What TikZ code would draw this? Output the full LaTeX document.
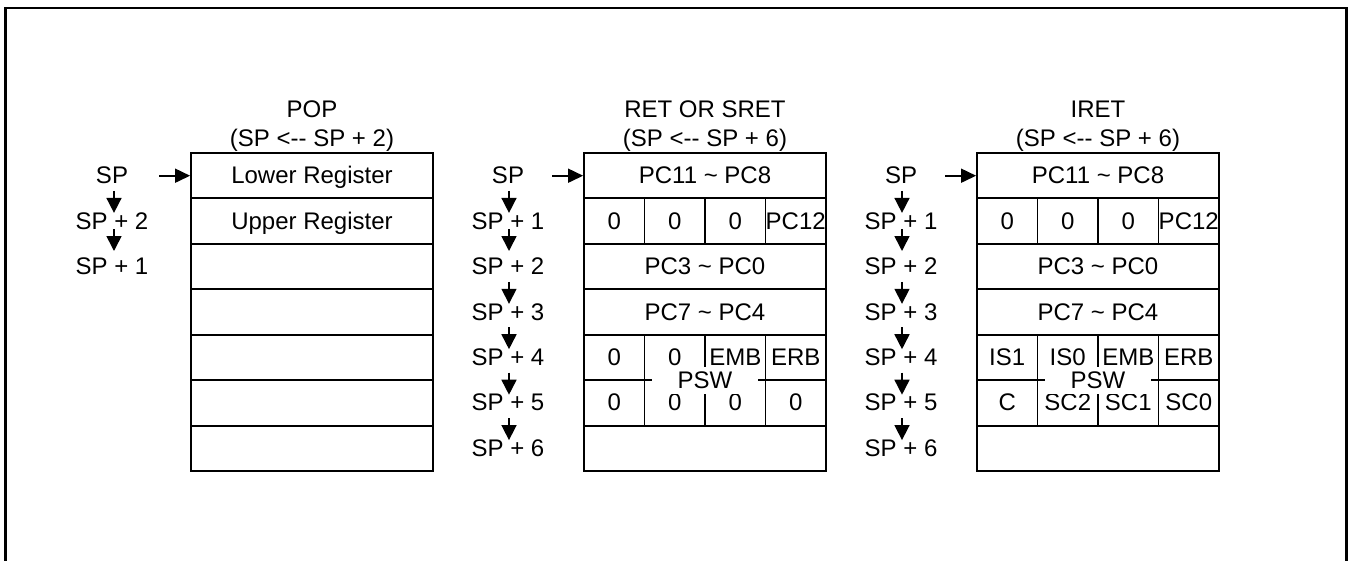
\documentclass[tikz,border=0pt]{standalone}
\usepackage{fontspec}
\setmainfont{Liberation Sans}
\usetikzlibrary{arrows.meta}
\begin{document}
\begin{tikzpicture}[x=1pt,y=-1pt,
  txt/.style={font=\fontsize{24}{28}\selectfont, text height=21pt, text depth=5pt, inner sep=0pt},
  rowbox/.style={txt, draw, line width=1.8pt, minimum width=242pt, minimum height=45.43pt},
  cellbox/.style={txt, draw, line width=1.8pt, minimum width=60.5pt, minimum height=45.43pt},
  pswbox/.style={txt, fill=white, minimum width=106.6pt, minimum height=27pt},
  harr/.style={line width=1.6pt, -{Triangle[length=15pt,width=14pt]}},
  varr/.style={line width=1.6pt, -{Triangle[length=15pt,width=15pt]}},
  frame/.style={line width=2.7pt}]
\useasboundingbox (0,0) rectangle (1353,560);
\draw[frame] (5.7,575) -- (5.7,8) -- (1346.7,8) -- (1346.7,575);

% ---------------- POP ----------------
\node[txt] (tp1) at (312,109) {POP};
\node[txt] (tp2) at (312,138.5) {(SP <-{}- SP + 2)};
\node[rowbox] (p1) at (312,175.7) {Lower Register};
\node[rowbox] (p2) at (312,221.1) {Upper Register};
\node[rowbox] (p3) at (312,266.6) {};
\node[rowbox] (p4) at (312,312.0) {};
\node[rowbox] (p5) at (312,357.4) {};
\node[rowbox] (p6) at (312,402.9) {};
\node[rowbox] (p7) at (312,448.3) {};
\node[txt] (pl1) at (112,175.7) {SP};
\node[txt] (pl2) at (112,221.1) {SP + 2};
\node[txt] (pl3) at (112,266.6) {SP + 1};
\draw[harr] ([xshift=-31pt]p1.west) -- (p1.west);
\draw[varr] ([xshift=2pt,yshift=-2pt]pl1.south) -- ([xshift=2pt,yshift=-5pt]pl2.north);
\draw[varr] ([xshift=2pt,yshift=5pt]pl2.south) -- ([xshift=2pt,yshift=2.4pt]pl3.north);

% ---------------- RET OR SRET ----------------
\node[txt] (tm1) at (705,109) {RET OR SRET};
\node[txt] (tm2) at (705,138.5) {(SP <-{}- SP + 6)};
\node[rowbox] (m1) at (705,175.7) {PC11 \textasciitilde{} PC8};
\node[cellbox] (m2a) at (614.25,221.1) {0};
\node[cellbox] (m2b) at (674.75,221.1) {0};
\node[cellbox] (m2c) at (735.25,221.1) {0};
\node[cellbox] (m2d) at (795.75,221.1) {PC12};
\node[rowbox] (m3) at (705,266.6) {PC3 \textasciitilde{} PC0};
\node[rowbox] (m4) at (705,312.0) {PC7 \textasciitilde{} PC4};
\node[cellbox] (m5a) at (614.25,357.4) {0};
\node[cellbox] (m5b) at (674.75,357.4) {0};
\node[cellbox] (m5c) at (735.25,357.4) {EMB};
\node[cellbox] (m5d) at (795.75,357.4) {ERB};
\node[cellbox] (m6a) at (614.25,402.9) {0};
\node[cellbox] (m6b) at (674.75,402.9) {0};
\node[cellbox] (m6c) at (735.25,402.9) {0};
\node[cellbox] (m6d) at (795.75,402.9) {0};
\node[rowbox] (m7) at (705,448.3) {};
\node[pswbox] (mpsw) at (705,380.5) {PSW};
\node[txt] (ml1) at (508,175.7) {SP};
\node[txt] (ml2) at (508,221.1) {SP + 1};
\node[txt] (ml3) at (508,266.6) {SP + 2};
\node[txt] (ml4) at (508,312.0) {SP + 3};
\node[txt] (ml5) at (508,357.4) {SP + 4};
\node[txt] (ml6) at (508,402.9) {SP + 5};
\node[txt] (ml7) at (508,448.3) {SP + 6};
\draw[harr] ([xshift=-31pt]m1.west) -- (m1.west);
\draw[varr] ([xshift=1pt,yshift=-2pt]ml1.south) -- ([xshift=1pt,yshift=-5pt]ml2.north);
\draw[varr] ([xshift=1pt,yshift=5pt]ml2.south) -- ([xshift=1pt,yshift=2.4pt]ml3.north);
\draw[varr] ([xshift=1pt,yshift=-2pt]ml3.south) -- ([xshift=1pt,yshift=-5pt]ml4.north);
\draw[varr] ([xshift=1pt,yshift=-2pt]ml4.south) -- ([xshift=1pt,yshift=-5pt]ml5.north);
\draw[varr] ([xshift=1pt,yshift=-2pt]ml5.south) -- ([xshift=1pt,yshift=-5pt]ml6.north);
\draw[varr] ([xshift=1pt,yshift=-2pt]ml6.south) -- ([xshift=1pt,yshift=-5pt]ml7.north);

% ---------------- IRET ----------------
\node[txt] (tr1) at (1098,109) {IRET};
\node[txt] (tr2) at (1098,138.5) {(SP <-{}- SP + 6)};
\node[rowbox] (r1) at (1098,175.7) {PC11 \textasciitilde{} PC8};
\node[cellbox] (r2a) at (1007.25,221.1) {0};
\node[cellbox] (r2b) at (1067.75,221.1) {0};
\node[cellbox] (r2c) at (1128.25,221.1) {0};
\node[cellbox] (r2d) at (1188.75,221.1) {PC12};
\node[rowbox] (r3) at (1098,266.6) {PC3 \textasciitilde{} PC0};
\node[rowbox] (r4) at (1098,312.0) {PC7 \textasciitilde{} PC4};
\node[cellbox] (r5a) at (1007.25,357.4) {IS1};
\node[cellbox] (r5b) at (1067.75,357.4) {IS0};
\node[cellbox] (r5c) at (1128.25,357.4) {EMB};
\node[cellbox] (r5d) at (1188.75,357.4) {ERB};
\node[cellbox] (r6a) at (1007.25,402.9) {C};
\node[cellbox] (r6b) at (1067.75,402.9) {SC2};
\node[cellbox] (r6c) at (1128.25,402.9) {SC1};
\node[cellbox] (r6d) at (1188.75,402.9) {SC0};
\node[rowbox] (r7) at (1098,448.3) {};
\node[pswbox] (rpsw) at (1098,380.5) {PSW};
\node[txt] (rl1) at (901,175.7) {SP};
\node[txt] (rl2) at (901,221.1) {SP + 1};
\node[txt] (rl3) at (901,266.6) {SP + 2};
\node[txt] (rl4) at (901,312.0) {SP + 3};
\node[txt] (rl5) at (901,357.4) {SP + 4};
\node[txt] (rl6) at (901,402.9) {SP + 5};
\node[txt] (rl7) at (901,448.3) {SP + 6};
\draw[harr] ([xshift=-31pt]r1.west) -- (r1.west);
\draw[varr] ([xshift=1pt,yshift=-2pt]rl1.south) -- ([xshift=1pt,yshift=-5pt]rl2.north);
\draw[varr] ([xshift=1pt,yshift=5pt]rl2.south) -- ([xshift=1pt,yshift=2.4pt]rl3.north);
\draw[varr] ([xshift=1pt,yshift=-2pt]rl3.south) -- ([xshift=1pt,yshift=-5pt]rl4.north);
\draw[varr] ([xshift=1pt,yshift=-2pt]rl4.south) -- ([xshift=1pt,yshift=-5pt]rl5.north);
\draw[varr] ([xshift=1pt,yshift=-2pt]rl5.south) -- ([xshift=1pt,yshift=-5pt]rl6.north);
\draw[varr] ([xshift=1pt,yshift=-2pt]rl6.south) -- ([xshift=1pt,yshift=-5pt]rl7.north);
\end{tikzpicture}
\end{document}
